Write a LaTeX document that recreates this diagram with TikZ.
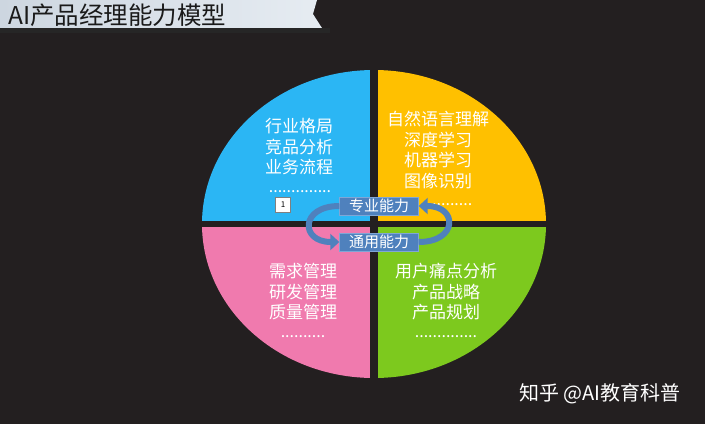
\documentclass[tikz,border=0pt]{standalone}
\usepackage{fontspec}
\setmainfont{Noto Sans CJK SC}
\usetikzlibrary{arrows.meta}
\definecolor{bgdark}{HTML}{231F20}
\definecolor{barleft}{HTML}{CDD6E0}
\definecolor{barright}{HTML}{E6ECF2}
\definecolor{titletext}{HTML}{1A1A1A}
\definecolor{qblue}{HTML}{2BB6F4}
\definecolor{qyellow}{HTML}{FFC000}
\definecolor{qpink}{HTML}{F07AAE}
\definecolor{qgreen}{HTML}{7DC91E}
\definecolor{boxblue}{HTML}{4F81BD}
\definecolor{boxedge}{HTML}{7FA6D6}
\begin{document}
\begin{tikzpicture}[x=1pt, y=-1pt,
    quad/.style={text=white, align=center, inner sep=0pt, font=\fontsize{17}{20.5}\selectfont},
    dots/.style={text=white, inner sep=0pt, font=\fontsize{16}{16}\selectfont},
    skill/.style={fill=boxblue, draw=boxedge, text=white, minimum width=79pt, minimum height=18pt, inner sep=0pt, font=\fontsize{15}{15}\selectfont},
    loop/.style={draw=boxblue, line width=6pt, -{Triangle[length=9pt, width=16pt]}}]
    \useasboundingbox (0,0) rectangle (705,424);
    \fill[bgdark] (0,0) rectangle (705,424);
    % title bar
    \fill[left color=barleft, right color=barright] (0,0) -- (317,0) -- (313,14) -- (322,28) -- (0,28) -- cycle;
    \fill[black!85] (0,28) rectangle (330,33);
    \node[anchor=west, text=titletext, inner sep=0pt, font=\fontsize{24.5}{24.5}\selectfont] (title) at (8,15) {AI产品经理能力模型};
    % four quarters of the ellipse
    \begin{scope}
        \clip (374,224) ellipse [x radius=172, y radius=154];
        \fill[qblue] (200,60) rectangle (374,224);
        \fill[qyellow] (374,60) rectangle (550,224);
        \fill[qpink] (200,224) rectangle (374,390);
        \fill[qgreen] (374,224) rectangle (550,390);
    \end{scope}
    \fill[bgdark] (370,60) rectangle (378,390);
    \fill[bgdark] (195,221) rectangle (555,227);
    % quarter texts
    \node[quad] (hangye) at (299,147) {行业格局\\竞品分析\\业务流程};
    \node[dots] (hdots) at (300,192) {..............};
    \node[quad] (ziran) at (438,150) {自然语言理解\\深度学习\\机器学习\\图像识别};
    \node[dots] (zdots) at (450,205) {..........};
    \node[quad] (xuqiu) at (303,292) {需求管理\\研发管理\\质量管理};
    \node[dots] (xdots) at (303,337) {..........};
    \node[quad] (yonghu) at (446,292) {用户痛点分析\\产品战略\\产品规划};
    \node[dots] (ydots) at (446,337) {..............};
    % centre boxes
    \node[skill] (zhuanye) at (379,206) {专业能力};
    \node[skill] (tongyong) at (379,242) {通用能力};
    \node[draw=gray, fill=white, minimum size=15pt, inner sep=0pt, font=\fontsize{8}{8}\selectfont] (num) at (283,205) {1};
    \path[loop] (zhuanye.west) to[out=180, in=180, looseness=2.8] (tongyong.west);
    \path[loop] (tongyong.east) to[out=0, in=0, looseness=2.8] (zhuanye.east);
    % watermark
    \node[anchor=west, text=white, inner sep=0pt, font=\fontsize{20}{20}\selectfont] (zhihu) at (519,394) {知乎 @AI教育科普};
\end{tikzpicture}
\end{document}
